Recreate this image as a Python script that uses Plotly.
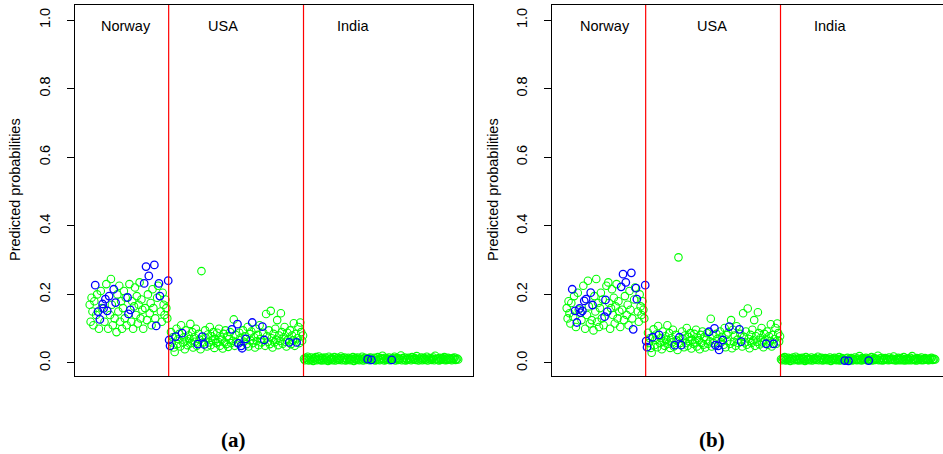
import plotly.graph_objects as go

# ---------------- data ----------------
countries = ["Norway", "USA", "India"]
y_ticks = [0.0, 0.2, 0.4, 0.6, 0.8, 1.0]

# panel (a)
norway_a = [0.17, 0.12, 0.19, 0.15, 0.11, 0.18, 0.227, 0.14, 0.20, 0.150,
            0.10, 0.127, 0.21, 0.16, 0.172, 0.159, 0.12, 0.186, 0.23, 0.152,
            0.10, 0.195, 0.14, 0.245, 0.17, 0.11, 0.215, 0.13, 0.176, 0.09,
            0.20, 0.15, 0.225, 0.12, 0.18, 0.10, 0.16, 0.21, 0.13, 0.19,
            0.11, 0.191, 0.143, 0.23, 0.155, 0.12, 0.18, 0.10, 0.165, 0.22,
            0.14, 0.195, 0.115, 0.17, 0.235, 0.13, 0.185, 0.155, 0.10, 0.232,
            0.16, 0.281, 0.125, 0.20, 0.254, 0.145, 0.175, 0.11, 0.215, 0.16,
            0.286, 0.13, 0.108, 0.19, 0.225, 0.232, 0.195, 0.15, 0.12, 0.205,
            0.17, 0.14, 0.185, 0.16, 0.13, 0.240]
usa_a = [0.067, 0.050, 0.09, 0.06, 0.075, 0.045, 0.032, 0.077, 0.10, 0.055,
         0.07, 0.085, 0.048, 0.11, 0.087, 0.06, 0.075, 0.04, 0.095, 0.065,
         0.052, 0.08, 0.07, 0.114, 0.058, 0.09, 0.045, 0.075, 0.062, 0.10,
         0.05, 0.055, 0.085, 0.068, 0.04, 0.268, 0.077, 0.06, 0.054, 0.095,
         0.072, 0.048, 0.083, 0.06, 0.105, 0.052, 0.078, 0.066, 0.09, 0.044,
         0.07, 0.058, 0.088, 0.062, 0.10, 0.05, 0.075, 0.068, 0.042, 0.085,
         0.06, 0.095, 0.055, 0.078, 0.047, 0.07, 0.09, 0.058, 0.098, 0.065,
         0.127, 0.05, 0.082, 0.06, 0.113, 0.057, 0.088, 0.072, 0.050, 0.043,
         0.095, 0.062, 0.078, 0.070, 0.055, 0.105, 0.048, 0.085, 0.066, 0.092,
         0.118, 0.058, 0.075, 0.045, 0.10, 0.064, 0.082, 0.052, 0.11, 0.07,
         0.06, 0.106, 0.088, 0.067, 0.05, 0.143, 0.078, 0.062, 0.095, 0.055,
         0.152, 0.072, 0.045, 0.085, 0.06, 0.10, 0.068, 0.125, 0.052, 0.08,
         0.064, 0.145, 0.09, 0.056, 0.075, 0.105, 0.062, 0.048, 0.088, 0.07,
         0.060, 0.095, 0.055, 0.08, 0.066, 0.116, 0.05, 0.085, 0.060, 0.072,
         0.105, 0.058, 0.118, 0.09, 0.065, 0.08]
india_a = [0.012, 0.008, 0.015, 0.010, 0.018, 0.007, 0.013, 0.009, 0.016, 0.011,
           0.006, 0.014, 0.010, 0.017, 0.008, 0.012, 0.019, 0.009, 0.013, 0.007,
           0.015, 0.011, 0.008, 0.016, 0.010, 0.013, 0.006, 0.018, 0.009, 0.012,
           0.014, 0.008, 0.011, 0.017, 0.007, 0.013, 0.010, 0.015, 0.009, 0.012,
           0.019, 0.008, 0.014, 0.010, 0.016, 0.007, 0.012, 0.009, 0.015, 0.011,
           0.008, 0.013, 0.010, 0.017, 0.006, 0.012, 0.014, 0.009, 0.016, 0.011,
           0.008, 0.013, 0.010, 0.018, 0.007, 0.012, 0.015, 0.009, 0.011, 0.011,
           0.014, 0.008, 0.016, 0.009, 0.012, 0.010, 0.015, 0.007, 0.013, 0.009,
           0.017, 0.011, 0.008, 0.014, 0.010, 0.021, 0.012, 0.007, 0.015, 0.009,
           0.013, 0.011, 0.016, 0.008, 0.012, 0.009, 0.014, 0.010, 0.018, 0.007,
           0.012, 0.015, 0.009, 0.013, 0.011, 0.022, 0.008, 0.014, 0.010, 0.016,
           0.007, 0.012, 0.009, 0.015, 0.011, 0.013, 0.008, 0.017, 0.010, 0.012,
           0.014, 0.009, 0.020, 0.011, 0.007, 0.013, 0.010, 0.016, 0.008, 0.012,
           0.015, 0.009, 0.011, 0.018, 0.007, 0.013, 0.010, 0.014, 0.009, 0.012,
           0.016, 0.008, 0.021, 0.011, 0.010, 0.013, 0.007, 0.015, 0.009, 0.012,
           0.014, 0.010, 0.017, 0.008, 0.012, 0.009, 0.015, 0.011, 0.013, 0.010,
           0.008, 0.014, 0.012, 0.016, 0.009, 0.011, 0.013, 0.010]

# panel (b)
norway_b = [0.16, 0.13, 0.18, 0.145, 0.115, 0.175, 0.215, 0.135, 0.195, 0.152,
            0.105, 0.118, 0.205, 0.155, 0.159, 0.147, 0.125, 0.152, 0.225, 0.181,
            0.10, 0.186, 0.14, 0.24, 0.165, 0.115, 0.205, 0.125, 0.169, 0.095,
            0.195, 0.15, 0.245, 0.12, 0.175, 0.105, 0.16, 0.205, 0.13, 0.185,
            0.11, 0.135, 0.184, 0.225, 0.150, 0.235, 0.175, 0.10, 0.16, 0.215,
            0.14, 0.19, 0.115, 0.165, 0.23, 0.13, 0.18, 0.15, 0.105, 0.222,
            0.155, 0.259, 0.125, 0.195, 0.235, 0.14, 0.17, 0.11, 0.21, 0.155,
            0.263, 0.13, 0.098, 0.185, 0.22, 0.218, 0.186, 0.15, 0.12, 0.20,
            0.165, 0.14, 0.18, 0.155, 0.13, 0.227]
usa_b = [0.064, 0.046, 0.088, 0.058, 0.072, 0.044, 0.03, 0.075, 0.098, 0.052,
         0.068, 0.083, 0.046, 0.108, 0.082, 0.058, 0.073, 0.04, 0.092, 0.063,
         0.05, 0.078, 0.068, 0.11, 0.056, 0.087, 0.044, 0.072, 0.06, 0.097,
         0.048, 0.052, 0.082, 0.066, 0.038, 0.308, 0.075, 0.058, 0.052, 0.092,
         0.07, 0.046, 0.08, 0.058, 0.102, 0.05, 0.076, 0.064, 0.087, 0.042,
         0.068, 0.056, 0.085, 0.06, 0.097, 0.048, 0.073, 0.066, 0.04, 0.082,
         0.058, 0.092, 0.053, 0.076, 0.045, 0.068, 0.087, 0.056, 0.091, 0.063,
         0.129, 0.048, 0.08, 0.058, 0.101, 0.052, 0.085, 0.07, 0.050, 0.038,
         0.092, 0.06, 0.076, 0.067, 0.053, 0.102, 0.046, 0.082, 0.064, 0.089,
         0.106, 0.056, 0.125, 0.043, 0.097, 0.062, 0.08, 0.05, 0.107, 0.068,
         0.058, 0.098, 0.085, 0.062, 0.048, 0.145, 0.076, 0.06, 0.092, 0.053,
         0.159, 0.07, 0.043, 0.082, 0.058, 0.097, 0.066, 0.125, 0.05, 0.078,
         0.062, 0.148, 0.087, 0.054, 0.073, 0.102, 0.06, 0.046, 0.085, 0.068,
         0.056, 0.092, 0.053, 0.078, 0.064, 0.113, 0.048, 0.082, 0.056, 0.07,
         0.102, 0.056, 0.115, 0.087, 0.063, 0.078]
india_b = [0.011, 0.008, 0.014, 0.010, 0.017, 0.007, 0.012, 0.009, 0.015, 0.011,
           0.006, 0.013, 0.010, 0.016, 0.008, 0.012, 0.018, 0.009, 0.012, 0.007,
           0.014, 0.011, 0.008, 0.015, 0.010, 0.012, 0.006, 0.017, 0.009, 0.012,
           0.013, 0.008, 0.011, 0.016, 0.007, 0.012, 0.010, 0.014, 0.009, 0.011,
           0.018, 0.008, 0.013, 0.010, 0.015, 0.007, 0.011, 0.009, 0.014, 0.010,
           0.008, 0.012, 0.010, 0.016, 0.006, 0.011, 0.013, 0.009, 0.015, 0.010,
           0.008, 0.012, 0.009, 0.017, 0.007, 0.011, 0.014, 0.009, 0.010, 0.007,
           0.013, 0.008, 0.015, 0.006, 0.011, 0.009, 0.014, 0.007, 0.012, 0.009,
           0.016, 0.010, 0.008, 0.013, 0.009, 0.020, 0.011, 0.007, 0.014, 0.009,
           0.012, 0.010, 0.015, 0.008, 0.011, 0.007, 0.013, 0.009, 0.017, 0.007,
           0.011, 0.014, 0.009, 0.012, 0.010, 0.021, 0.008, 0.013, 0.009, 0.015,
           0.007, 0.011, 0.009, 0.014, 0.010, 0.012, 0.008, 0.016, 0.009, 0.011,
           0.013, 0.009, 0.019, 0.010, 0.007, 0.012, 0.009, 0.015, 0.008, 0.011,
           0.014, 0.008, 0.010, 0.017, 0.007, 0.012, 0.009, 0.013, 0.008, 0.011,
           0.015, 0.008, 0.020, 0.010, 0.009, 0.012, 0.007, 0.014, 0.008, 0.011,
           0.013, 0.009, 0.016, 0.008, 0.011, 0.009, 0.014, 0.010, 0.012, 0.009,
           0.008, 0.013, 0.011, 0.015, 0.009, 0.010, 0.012, 0.010]

# observation numbers (1-based) of the positive cases, shared by both panels
positive_idx = [7, 10, 12, 15, 16, 18, 20, 22, 27, 29, 42, 43, 45, 60, 62, 65,
                71, 73, 76, 77, 86,
                87, 88, 94, 101, 118, 123, 125, 155, 161, 162, 165, 166, 170,
                177, 188, 190, 217, 225,
                302, 306, 328]

label_x_a = [40, 145, 286]
label_x_b = [42, 158, 286]

# ---------------- figure ----------------
W, H = 943, 454
GREEN = "#00ff00"
BLUE = "#0000ff"

fig = go.Figure()


def add_panel(fig, groups, xa, ya):
    y = [v for g in groups for v in g]
    idx = list(range(1, len(y) + 1))
    pos = set(positive_idx)
    gx = [i for i in idx if i not in pos]
    gy = [y[i - 1] for i in gx]
    bx = [i for i in idx if i in pos]
    by = [y[i - 1] for i in bx]
    fig.add_trace(go.Scatter(x=gx, y=gy, mode="markers", xaxis=xa, yaxis=ya,
                             marker=dict(symbol="circle-open", size=7.5, color=GREEN,
                                         line=dict(width=1.1, color=GREEN)),
                             showlegend=False, hoverinfo="skip"))
    fig.add_trace(go.Scatter(x=bx, y=by, mode="markers", xaxis=xa, yaxis=ya,
                             marker=dict(symbol="circle-open", size=7.5, color=BLUE,
                                         line=dict(width=1.3, color=BLUE)),
                             showlegend=False, hoverinfo="skip"))
    b1 = len(groups[0]) + 0.5
    b2 = len(groups[0]) + len(groups[1]) + 0.5
    for b in (b1, b2):
        fig.add_shape(type="line", xref=xa, yref=ya + " domain", x0=b, x1=b, y0=0, y1=1,
                      line=dict(color="#ff0000", width=1.2))


add_panel(fig, [norway_a, usa_a, india_a], "x", "y")
add_panel(fig, [norway_b, usa_b, india_b], "x2", "y2")

px_per_obs = 0.9236
x0 = 1 - 14.7 / px_per_obs
ydom = [78 / H, 449 / H]
yrange = [-0.038, 1.044]
FS = 14.5
tickfont = dict(family="Liberation Sans, Arial, sans-serif", size=FS, color="black")

common_x = dict(showgrid=False, zeroline=False, showticklabels=False, ticks="",
                showline=True, linecolor="black", linewidth=1, mirror=True)
common_y = dict(showgrid=False, zeroline=False, range=yrange, domain=ydom,
                tickvals=y_ticks, ticktext=["%.1f" % v for v in y_ticks],
                ticks="outside", ticklen=7, tickcolor="black", tickwidth=1,
                tickangle=-90, tickfont=tickfont, ticklabelstandoff=11,
                showline=True, linecolor="black", linewidth=1)

fig.update_layout(
    width=W, height=H, margin=dict(l=0, r=0, t=0, b=0),
    paper_bgcolor="white", plot_bgcolor="white",
    xaxis=dict(domain=[75 / W, 473 / W], range=[x0, x0 + 398 / px_per_obs], **common_x),
    xaxis2=dict(domain=[552 / W, 1.0], range=[x0, x0 + 391 / px_per_obs], anchor="y2", **common_x),
    yaxis=dict(anchor="x", mirror=True, **common_y),
    yaxis2=dict(anchor="x2", mirror=False, **common_y),
)

label_font = dict(family="Liberation Sans, Arial, sans-serif", size=FS, color="black")
for xa, xs in (("x", label_x_a), ("x2", label_x_b)):
    for name, xv in zip(countries, xs):
        fig.add_annotation(x=xv, y=(H - 26) / H, xref=xa, yref="paper", text=name,
                           showarrow=False, font=label_font, xanchor="center", yanchor="middle")

for xc in (15, 493):
    fig.add_annotation(x=xc / W, y=(H - 190) / H, xref="paper", yref="paper",
                       text="Predicted probabilities", textangle=-90, showarrow=False,
                       font=label_font, xanchor="center", yanchor="middle")

for txt, xc in (("(a)", 233), ("(b)", 712)):
    fig.add_annotation(x=xc / W, y=(H - 440) / H, xref="paper", yref="paper",
                       text="<b>%s</b>" % txt, showarrow=False,
                       font=dict(family="Liberation Serif, Times New Roman, serif", size=21, color="black"),
                       xanchor="center", yanchor="middle")

fig.write_html("out.html")
